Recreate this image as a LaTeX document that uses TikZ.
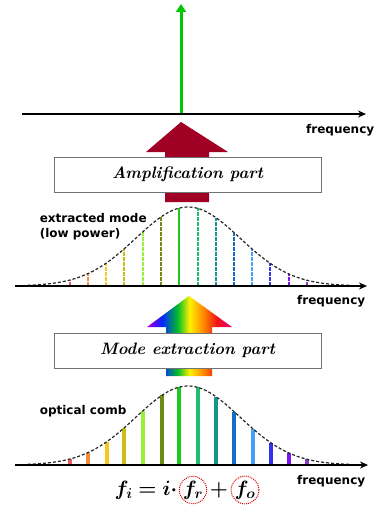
\documentclass[tikz,border=0pt]{standalone}
\usepackage{fontspec}
\usepackage{bm}
\setsansfont{DejaVu Sans}
\usetikzlibrary{arrows.meta,positioning}

\definecolor{ampred}{RGB}{160,0,35}
\definecolor{laser}{RGB}{0,200,0}
\definecolor{m1}{RGB}{240,90,100}
\definecolor{m2}{RGB}{240,140,60}
\definecolor{m3}{RGB}{245,200,30}
\definecolor{m4}{RGB}{200,190,20}
\definecolor{m5}{RGB}{150,240,60}
\definecolor{m6}{RGB}{110,140,20}
\definecolor{m7}{RGB}{30,200,30}
\definecolor{m8}{RGB}{30,190,110}
\definecolor{m9}{RGB}{20,150,140}
\definecolor{m10}{RGB}{20,110,200}
\definecolor{m11}{RGB}{70,160,250}
\definecolor{m12}{RGB}{50,50,240}
\definecolor{m13}{RGB}{120,20,240}
\definecolor{m14}{RGB}{140,60,210}
\definecolor{rbA}{RGB}{220,0,220}
\definecolor{rbB}{RGB}{120,0,230}
\definecolor{rbC}{RGB}{0,40,255}
\definecolor{rbD}{RGB}{0,190,40}
\definecolor{rbE}{RGB}{255,240,0}
\definecolor{rbF}{RGB}{255,140,0}
\definecolor{rbG}{RGB}{240,20,20}
\definecolor{rbH}{RGB}{230,0,130}
\pgfdeclarehorizontalshading{rainbow}{100bp}{color(0bp)=(rbA); color(25bp)=(rbA);
  color(28bp)=(rbB); color(34bp)=(rbC); color(43bp)=(rbD); color(50bp)=(rbE);
  color(58bp)=(rbF); color(66bp)=(rbG); color(75bp)=(rbH); color(100bp)=(rbH)}

\tikzset{
  axis/.style={line width=2.2pt,-{Stealth[length=8pt,width=7pt]}},
  partbox/.style={draw=black!55,fill=white,line width=1pt,minimum width=267pt,
    minimum height=35pt,font=\fontsize{16.5}{18}\selectfont\bfseries\itshape},
  label/.style={font=\fontsize{12}{15}\selectfont\sffamily\bfseries},
  envelope/.style={dash pattern=on 3pt off 2pt,line width=1.2pt,black!85},
  ring/.style={circle,draw=red!85!black,densely dotted,line width=1pt,
    minimum size=27pt,inner sep=0pt},
  declare function={env(\x)=79*exp(-0.5*((\x-188)/52)^2);}
}

\begin{document}
\begin{tikzpicture}[x=1pt,y=-1pt,line width=0.9pt]
  \useasboundingbox (0,0) rectangle (380,508);
  % amplified output
  \draw[axis] (22,114)--(366,114);
  \node[label,anchor=east] (freqA) at (378,130){frequency};
  \draw[laser,line width=3pt,-{Triangle[length=8pt,width=10pt]}] (181,113)--(181,4);
  % amplification
  \fill[ampred] (181,122)--(228,152)--(209,152)--(209,202)--(165,202)--(165,152)--(146,152)--cycle;
  \node[partbox] (amp) at (187.5,174.5){Amplification part};
  % extracted mode
  \foreach \x/\c in {70/m1,88/m2,106/m3,124/m4,143/m5,161/m6,198/m8,216/m9,234/m10,252/m11,270/m12,289/m13,307/m14}
    \draw[\c,line width=2.2pt,dash pattern=on 4pt off 1pt] (\x,286)--(\x,{286-env(\x)});
  \draw[m7,line width=2.5pt] (179,286)--(179,{286-env(179)});
  \draw[envelope] plot[domain=28:350,samples=80] (\x,{286-env(\x)});
  \draw[axis] (15,286)--(367,286);
  \node[label,anchor=west,align=left] (modeA) at (36,227){extracted mode\\(low power)};
  \node[label,anchor=east] (freqB) at (369,301){frequency};
  % mode extraction
  \shade[shading=rainbow] (189,296)--(232,327)--(212,327)--(212,376)--(166,376)--(166,327)--(147,327)--cycle;
  \node[partbox] (ext) at (187.5,350.5){Mode extraction part};
  % optical comb
  \foreach \x/\c in {70/m1,88/m2,107/m3,124/m4,143/m5,162/m6,179/m7,198/m8,216/m9,234/m10,253/m11,271/m12,289/m13,307/m14}
    \draw[\c,line width=3.5pt] (\x,465)--(\x,{465-env(\x)});
  \draw[envelope] plot[domain=28:350,samples=80] (\x,{465-env(\x)});
  \draw[axis] (15,465)--(368,465);
  \node[label,anchor=west] (comb) at (36,411){optical comb};
  \node[label,anchor=east] (freqC) at (369,481){frequency};
  % formula
  \begin{scope}[font=\fontsize{20}{22}\selectfont]
    \node[ring] (fr) at (193,490){$\bm{f_r}$};
    \node[ring] (fo) at (245,490){$\bm{f_o}$};
    \node (plus) at (219,490){$\bm{+}$};
    \node[anchor=east,inner sep=1pt] (lhs) at (fr.west){$\bm{f_i = i\cdot}$};
  \end{scope}
\end{tikzpicture}
\end{document}
